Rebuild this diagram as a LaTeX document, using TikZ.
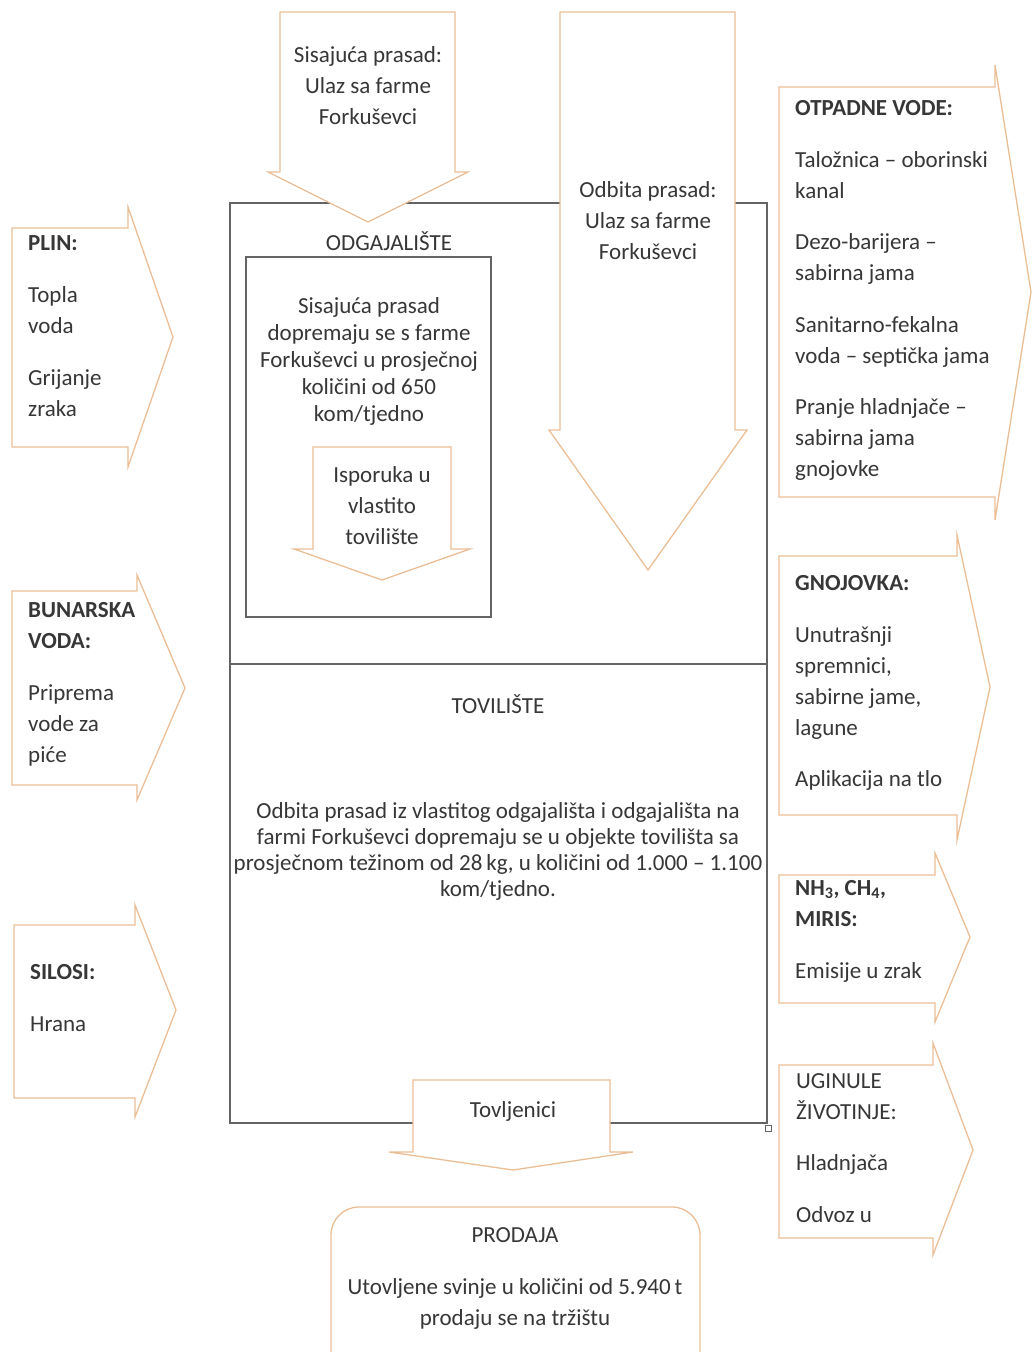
\documentclass[tikz,border=0pt]{standalone}
\usepackage{fontspec}
\setmainfont{Carlito}
\definecolor{org}{RGB}{236,190,150}
\definecolor{txt}{RGB}{55,55,55}
\definecolor{boxc}{RGB}{100,100,100}
\begin{document}
\begin{tikzpicture}[x=1pt,y=-1pt,
  barrow/.style={draw=org,fill=white,line width=1.3pt,line join=miter},
  frame/.style={draw=boxc,line width=1.4pt},
  lbl/.style={inner sep=0pt,text=txt,font=\fontsize{23}{31}\selectfont},
  lblc/.style={lbl,align=center,anchor=base},
  lbll/.style={lbl,align=left,anchor=base west},
  tight/.style={font=\fontsize{23}{27}\selectfont},
  tighter/.style={font=\fontsize{23}{25.7}\selectfont}
]
\clip (0,0) rectangle (1033,1352);
\fill[white] (0,0) rectangle (1033,1352);

% main frame
\draw[frame] (230,203) rectangle (767,1123);
\draw[frame] (230,664) -- (767,664);
\draw[frame] (246,257) rectangle (491,617);
\draw[draw=boxc,line width=0.6pt] (765,1125) rectangle (771,1131);

% top arrows
\draw[barrow] (280,12) -- (455,12) -- (455,172) -- (468,172) -- (368,222) -- (268,172) -- (280,172) -- cycle;
\draw[barrow] (560,12) -- (735,12) -- (735,430) -- (747,430) -- (648,570) -- (549,430) -- (560,430) -- cycle;

% inner arrow
\draw[barrow] (313,447) -- (451,447) -- (451,549) -- (470,549) -- (382,580) -- (294,549) -- (313,549) -- cycle;

% bottom arrow
\draw[barrow] (413,1080) -- (610,1080) -- (610,1152) -- (633,1152) -- (513,1170) -- (389,1152) -- (413,1152) -- cycle;

% left arrows
\draw[barrow] (12,228) -- (128,228) -- (128,207) -- (173,337) -- (128,467) -- (128,447) -- (12,447) -- cycle;
\draw[barrow] (12,591) -- (137,591) -- (137,575) -- (185,688) -- (137,800) -- (137,785) -- (12,785) -- cycle;
\draw[barrow] (14,925) -- (135,925) -- (135,905) -- (176,1010) -- (135,1117) -- (135,1098) -- (14,1098) -- cycle;

% right arrows
\draw[barrow] (779,87) -- (995,87) -- (995,65) -- (1031,292) -- (995,520) -- (995,497) -- (779,497) -- cycle;
\draw[barrow] (779,556) -- (957,556) -- (957,535) -- (990,687) -- (957,840) -- (957,815) -- (779,815) -- cycle;
\draw[barrow] (779,875) -- (935,875) -- (935,853) -- (970,937) -- (935,1022) -- (935,1003) -- (779,1003) -- cycle;
\draw[barrow] (779,1065) -- (933,1065) -- (933,1043) -- (973,1150) -- (933,1255) -- (933,1238) -- (779,1238) -- cycle;

% prodaja
\draw[draw=org,line width=1.3pt,rounded corners=28pt] (331,1207) rectangle (700,1400);

% texts (base anchor = baseline of the last line)
\node[lblc] (t1) at (368,124) {Sisajuća prasad:\\Ulaz sa farme\\Forkuševci};
\node[lblc] (t2) at (648,259) {Odbita prasad:\\Ulaz sa farme\\Forkuševci};
\node[lblc] (odg) at (389,250) {ODGAJALIŠTE};
\node[lblc,tight] (odgt) at (369,421) {Sisajuća prasad\\dopremaju se s farme\\Forkuševci u prosječnoj\\količini od 650\\kom/tjedno};
\node[lblc] (isp) at (382,544) {Isporuka u\\vlastito\\tovilište};
\node[lblc] (tov) at (498,713) {TOVILIŠTE};
\node[lblc,tighter] (tovt) at (498,896) {Odbita prasad iz vlastitog odgajališta i odgajališta na\\farmi Forkuševci dopremaju se u objekte tovilišta sa\\prosječnom težinom od 28\,kg, u količini od 1.000 – 1.100\\kom/tjedno.};
\node[lblc] (tovlj) at (513,1117) {Tovljenici};
\node[lblc] (prod) at (515,1242) {PRODAJA};
\node[lblc] (prodt) at (515,1325) {Utovljene svinje u količini od 5.940\,t\\prodaju se na tržištu};

\node[lbll] (plin) at (28,416) {\textbf{PLIN:}\\[21pt]Topla\\voda\\[21pt]Grijanje\\zraka};
\node[lbll] (bun) at (28,762) {\textbf{BUNARSKA}\\\textbf{VODA:}\\[21pt]Priprema\\vode za\\piće};
\node[lbll] (sil) at (30,1031) {\textbf{SILOSI:}\\[21pt]Hrana};

\node[lbll] (otp) at (795,476) {\textbf{OTPADNE VODE:}\\[21pt]Taložnica – oborinski\\kanal\\[20pt]Dezo-barijera –\\sabirna jama\\[21pt]Sanitarno-fekalna\\voda – septička jama\\[20pt]Pranje hladnjače –\\sabirna jama\\gnojovke};
\node[lbll] (gno) at (795,786) {\textbf{GNOJOVKA:}\\[21pt]Unutrašnji\\spremnici,\\sabirne jame,\\lagune\\[20pt]Aplikacija na tlo};
\node[lbll] (nh) at (795,978) {\textbf{NH\textsubscript{3}, CH\textsubscript{4},}\\\textbf{MIRIS:}\\[21pt]Emisije u zrak};
\node[lbll] (ug) at (796,1222) {UGINULE\\ŽIVOTINJE:\\[20pt]Hladnjača\\[21pt]Odvoz u};
\end{tikzpicture}
\end{document}
